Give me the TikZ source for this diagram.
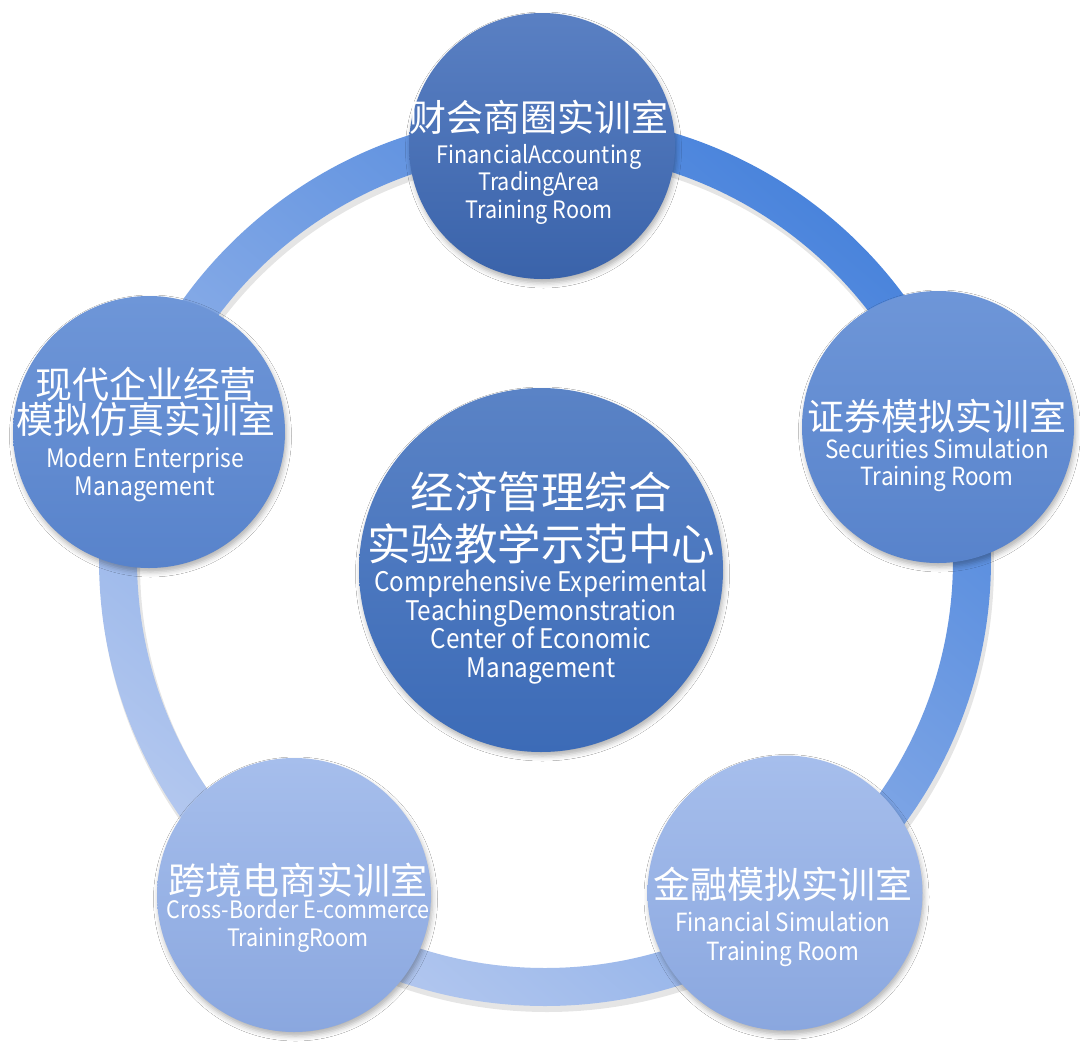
\documentclass[tikz,border=0pt]{standalone}
\usepackage{fontspec}
\setmainfont{Noto Sans CJK SC}
\newfontfamily\enfont[FakeStretch=0.9]{Noto Sans CJK SC}
\usetikzlibrary{shadows.blur}
\definecolor{ringA}{HTML}{4A84DC}
\definecolor{ringB}{HTML}{B4C8EF}
\definecolor{topA}{HTML}{5A80C3}
\definecolor{topB}{HTML}{3A63AA}
\definecolor{midA}{HTML}{5A83C6}
\definecolor{midB}{HTML}{3C6BB7}
\definecolor{sideA}{HTML}{6E96D8}
\definecolor{sideB}{HTML}{5883CB}
\definecolor{lowA}{HTML}{A6BEEC}
\definecolor{lowB}{HTML}{8AA7DF}
\tikzset{
  bubble/.style={circle, inner sep=0pt, draw=none,
    blur shadow={shadow xshift=1.5pt, shadow yshift=-4pt, shadow blur radius=5pt, shadow opacity=30}},
  zh/.style={text=white, align=center, inner sep=0pt},
  en/.style={text=white, align=center, inner sep=0pt},
}
\begin{document}
\begin{tikzpicture}[x=1pt,y=-1pt]
\useasboundingbox (0,0) rectangle (1080,1042);
\fill[white] (0,0) rectangle (1080,1042);
% ring shadow
\fill[black, opacity=0.10, even odd rule] (547,565) circle (447) (547,565) circle (407);
% ring
\shade[even odd rule, shading=axis, top color=ringA, bottom color=ringB, shading angle=-40]
  (545,560) circle (446) (545,560) circle (408);
% circles
\node[bubble, minimum size=266pt, top color=topA, bottom color=topB] (c1) at (542,146) {};
\node[bubble, minimum size=272pt, top color=sideA, bottom color=sideB] (c2) at (938,427) {};
\node[bubble, minimum size=275pt, top color=lowA, bottom color=lowB] (c3) at (785,893) {};
\node[bubble, minimum size=274pt, top color=lowA, bottom color=lowB] (c4) at (294,895) {};
\node[bubble, minimum size=272pt, top color=sideA, bottom color=sideB] (c5) at (149,432) {};
\node[bubble, minimum size=364pt, top color=midA, bottom color=midB] (c0) at (541,570) {};
% texts
\node[zh, font=\fontsize{37}{37}\selectfont] (t1z) at (539,117) {财会商圈实训室};
\node[en, font=\enfont\fontsize{24}{27.5}\selectfont] (t1e) at (539,184) {FinancialAccounting\\TradingArea\\Training Room};

\node[zh, font=\fontsize{37}{37}\selectfont] (t2z) at (937,416) {证券模拟实训室};
\node[en, font=\enfont\fontsize{25}{27}\selectfont] (t2e) at (937,465) {Securities Simulation\\Training Room};

\node[zh, font=\fontsize{37}{37}\selectfont] (t3z) at (783,884) {金融模拟实训室};
\node[en, font=\enfont\fontsize{25}{29}\selectfont] (t3e) at (783,939) {Financial Simulation\\Training Room};

\node[zh, font=\fontsize{37}{37}\selectfont] (t4z) at (298,880) {跨境电商实训室};
\node[en, font=\enfont\fontsize{24}{28}\selectfont] (t4e) at (298,926) {Cross-Border E-commerce\\TrainingRoom};

\node[zh, font=\fontsize{37}{35.5}\selectfont] (t5z) at (146,402) {现代企业经营\\模拟仿真实训室};
\node[en, font=\enfont\fontsize{25.5}{28}\selectfont] (t5e) at (145,475) {Modern Enterprise\\Management};

\node[zh, font=\fontsize{43.5}{52}\selectfont] (t0z) at (541,518) {经济管理综合\\实验教学示范中心};
\node[en, font=\enfont\fontsize{27}{28.7}\selectfont] (t0e) at (541,627) {Comprehensive Experimental\\TeachingDemonstration\\Center of Economic\\Management};
\end{tikzpicture}
\end{document}
